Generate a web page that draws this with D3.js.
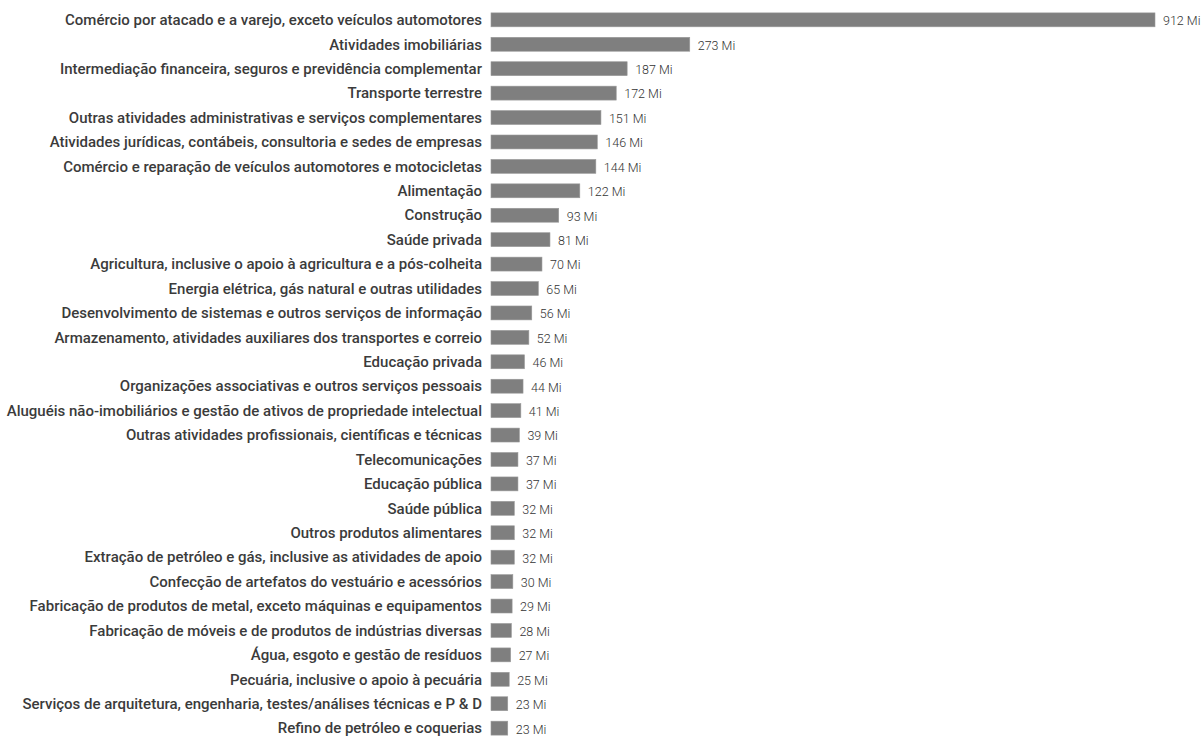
<!DOCTYPE html>
<html>
<head>
<meta charset="utf-8">
<script src="https://cdn.jsdelivr.net/npm/d3@7"></script>
<style>
  body { margin: 0; background: #fff; }
  .label { font-family: Roboto, sans-serif; font-weight: 500; font-size: 15px; fill: #3b3b3b; }
  .value { font-family: Roboto, sans-serif; font-weight: 300; font-size: 12.5px; fill: #333; }
</style>
</head>
<body>
<div id="chart"></div>
<script>
// categories (sectors) and values in millions
let sectors = [
  "Comércio por atacado e a varejo, exceto veículos automotores",
  "Atividades imobiliárias",
  "Intermediação financeira, seguros e previdência complementar",
  "Transporte terrestre",
  "Outras atividades administrativas e serviços complementares",
  "Atividades jurídicas, contábeis, consultoria e sedes de empresas",
  "Comércio e reparação de veículos automotores e motocicletas",
  "Alimentação",
  "Construção",
  "Saúde privada",
  "Agricultura, inclusive o apoio à agricultura e a pós-colheita",
  "Energia elétrica, gás natural e outras utilidades",
  "Desenvolvimento de sistemas e outros serviços de informação",
  "Armazenamento, atividades auxiliares dos transportes e correio",
  "Educação privada",
  "Organizações associativas e outros serviços pessoais",
  "Aluguéis não-imobiliários e gestão de ativos de propriedade intelectual",
  "Outras atividades profissionais, científicas e técnicas",
  "Telecomunicações",
  "Educação pública",
  "Saúde pública",
  "Outros produtos alimentares",
  "Extração de petróleo e gás, inclusive as atividades de apoio",
  "Confecção de artefatos do vestuário e acessórios",
  "Fabricação de produtos de metal, exceto máquinas e equipamentos",
  "Fabricação de móveis e de produtos de indústrias diversas",
  "Água, esgoto e gestão de resíduos",
  "Pecuária, inclusive o apoio à pecuária",
  "Serviços de arquitetura, engenharia, testes/análises técnicas e P & D",
  "Refino de petróleo e coquerias"
]
let values = [912, 273, 187, 172, 151, 146, 144, 122, 93, 81, 70, 65, 56, 52, 46,
              44, 41, 39, 37, 37, 32, 32, 32, 30, 29, 28, 27, 25, 23, 23]

let data = sectors.map((s, i) => ({sector: s, value: values[i]}))

let svg_width = 1203
let svg_height = 739
let barLeft = 491

let svg = d3.select("#chart")
  .append("svg")
  .attr("width", svg_width)
  .attr("height", svg_height)

// x: value -> bar length
let xScale = d3.scaleLinear()
  .domain([0, 912])
  .range([barLeft, 1155])

// y: sector -> row
let yScale = d3.scaleBand()
  .domain(sectors)
  .range([8, 740])
  .paddingInner(0.43)
  .paddingOuter(0.2)

let rows = svg.selectAll("g.row")
  .data(data, d => d.sector)
  .enter()
  .append("g")
  .attr("class", "row")
  .attr("transform", d => `translate(0,${yScale(d.sector)})`)

rows.append("rect")
  .attr("x", barLeft)
  .attr("y", 0)
  .attr("width", d => xScale(d.value) - barLeft)
  .attr("height", yScale.bandwidth())
  .style("fill", "#7f7f7f")
  .style("stroke", "#9a9a9a")
  .style("stroke-width", 0.6)

rows.append("text")
  .attr("class", "label")
  .attr("x", 482)
  .attr("y", yScale.bandwidth() / 2)
  .attr("dy", "0.35em")
  .attr("text-anchor", "end")
  .text(d => d.sector)

rows.append("text")
  .attr("class", "value")
  .attr("x", d => xScale(d.value) + 8)
  .attr("y", yScale.bandwidth() / 2 + 1)
  .attr("dy", "0.35em")
  .text(d => d.value + " Mi")
</script>
</body>
</html>
